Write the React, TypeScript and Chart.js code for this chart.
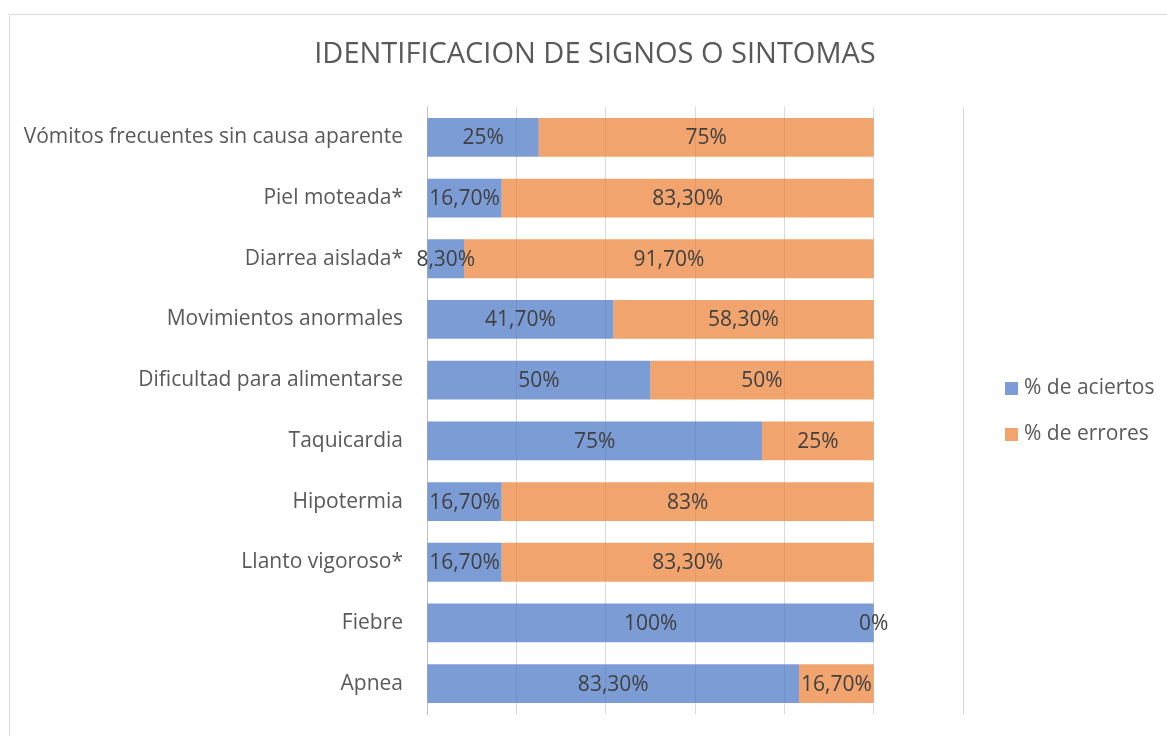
import React, { useEffect, useRef } from "react";
import { Chart, registerables } from "chart.js";

Chart.register(...registerables);

const chartTitle = "IDENTIFICACION DE SIGNOS O SINTOMAS";
const categories = [
  "Vómitos frecuentes sin causa aparente",
  "Piel moteada*",
  "Diarrea aislada*",
  "Movimientos anormales",
  "Dificultad para alimentarse",
  "Taquicardia",
  "Hipotermia",
  "Llanto vigoroso*",
  "Fiebre",
  "Apnea",
];
const seriesNames = ["% de aciertos", "% de errores"];
const aciertos = [25, 16.7, 8.3, 41.7, 50, 75, 16.7, 16.7, 100, 83.3];
const errores = [75, 83.3, 91.7, 58.3, 50, 25, 83.3, 83.3, 0, 16.7];
const aciertosLabels = ["25%", "16,70%", "8,30%", "41,70%", "50%", "75%", "16,70%", "16,70%", "100%", "83,30%"];
const erroresLabels = ["75%", "83,30%", "91,70%", "58,30%", "50%", "25%", "83%", "83,30%", "0%", "16,70%"];
const xMin = 0;
const xMax = 120;
const xStep = 20;

const FONT = "'Open Sans', 'DejaVu Sans', sans-serif";
const COLORS = ["rgba(68,114,196,0.7)", "rgba(237,125,49,0.7)"];
const LABEL_SETS = [aciertosLabels, erroresLabels];

const CANVAS_W = 1170;
const CANVAS_H = 738;

const titlePlugin = {
  id: "centeredTitle",
  afterDraw(chart: any) {
    const ctx = chart.ctx;
    ctx.save();
    ctx.font = `29px ${FONT}`;
    ctx.fillStyle = "#595959";
    ctx.textAlign = "center";
    ctx.textBaseline = "middle";
    ctx.fillText(chartTitle, chart.width / 2, 40);
    ctx.restore();
  },
};

const dataLabelPlugin = {
  id: "dataLabels",
  afterDatasetsDraw(chart: any) {
    const ctx = chart.ctx;
    ctx.save();
    ctx.font = `21px ${FONT}`;
    ctx.fillStyle = "#404040";
    ctx.textAlign = "center";
    ctx.textBaseline = "middle";
    chart.data.datasets.forEach((_ds: any, di: number) => {
      const meta = chart.getDatasetMeta(di);
      meta.data.forEach((bar: any, i: number) => {
        const cx = (bar.x + bar.base) / 2;
        ctx.fillText(LABEL_SETS[di][i], cx, bar.y + 1);
      });
    });
    ctx.restore();
  },
};

const legendPlugin = {
  id: "customLegend",
  afterDraw(chart: any) {
    const ctx = chart.ctx;
    const area = chart.chartArea;
    const midY = (area.top + area.bottom) / 2;
    const x0 = area.right + 42;
    ctx.save();
    ctx.font = `21px ${FONT}`;
    ctx.textBaseline = "middle";
    ctx.textAlign = "left";
    seriesNames.forEach((name, i) => {
      const cy = midY - 22 + i * 46;
      ctx.fillStyle = COLORS[i];
      ctx.fillRect(x0, cy - 6.5, 13, 13);
      ctx.fillStyle = "#595959";
      ctx.fillText(name, x0 + 19, cy);
    });
    ctx.restore();
  },
};

export default function App() {
  const canvasRef = useRef<HTMLCanvasElement | null>(null);

  useEffect(() => {
    if (!canvasRef.current) return;
    const chart = new Chart(canvasRef.current, {
      type: "bar",
      data: {
        labels: categories,
        datasets: [
          { label: seriesNames[0], data: aciertos, backgroundColor: COLORS[0], borderWidth: 0 },
          { label: seriesNames[1], data: errores, backgroundColor: COLORS[1], borderWidth: 0 },
        ],
      },
      options: {
        indexAxis: "y",
        responsive: false,
        animation: false,
        devicePixelRatio: 1,
        categoryPercentage: 0.8,
        barPercentage: 0.8,
        layout: { padding: { left: 0, right: 217, top: 92, bottom: 39 } },
        plugins: {
          legend: { display: false },
          tooltip: { enabled: false },
          title: { display: false },
        },
        scales: {
          x: {
            stacked: true,
            min: xMin,
            max: xMax,
            ticks: { display: false, stepSize: xStep },
            grid: { color: "#d9d9d9", lineWidth: 1, drawTicks: false },
            border: { display: false },
          },
          y: {
            stacked: true,
            grid: { display: false, drawTicks: false },
            border: { display: true, color: "#bfbfbf", width: 1 },
            ticks: {
              color: "#595959",
              font: { family: FONT, size: 21 },
              padding: 24,
            },
            afterFit(scale: any) {
              scale.width = 417;
            },
          },
        },
      } as any,
      plugins: [titlePlugin, dataLabelPlugin, legendPlugin],
    });
    return () => chart.destroy();
  }, []);

  return (
    <div
      style={{
        position: "fixed",
        left: 0,
        top: 0,
        width: 1167,
        height: 736,
        overflow: "hidden",
        background: "#ffffff",
      }}
    >
      <div
        style={{
          position: "absolute",
          left: 9,
          top: 14,
          width: CANVAS_W,
          height: CANVAS_H,
          border: "1px solid #d9d9d9",
          background: "#ffffff",
        }}
      >
        <canvas ref={canvasRef} width={CANVAS_W} height={CANVAS_H} style={{ display: "block" }} />
      </div>
    </div>
  );
}
